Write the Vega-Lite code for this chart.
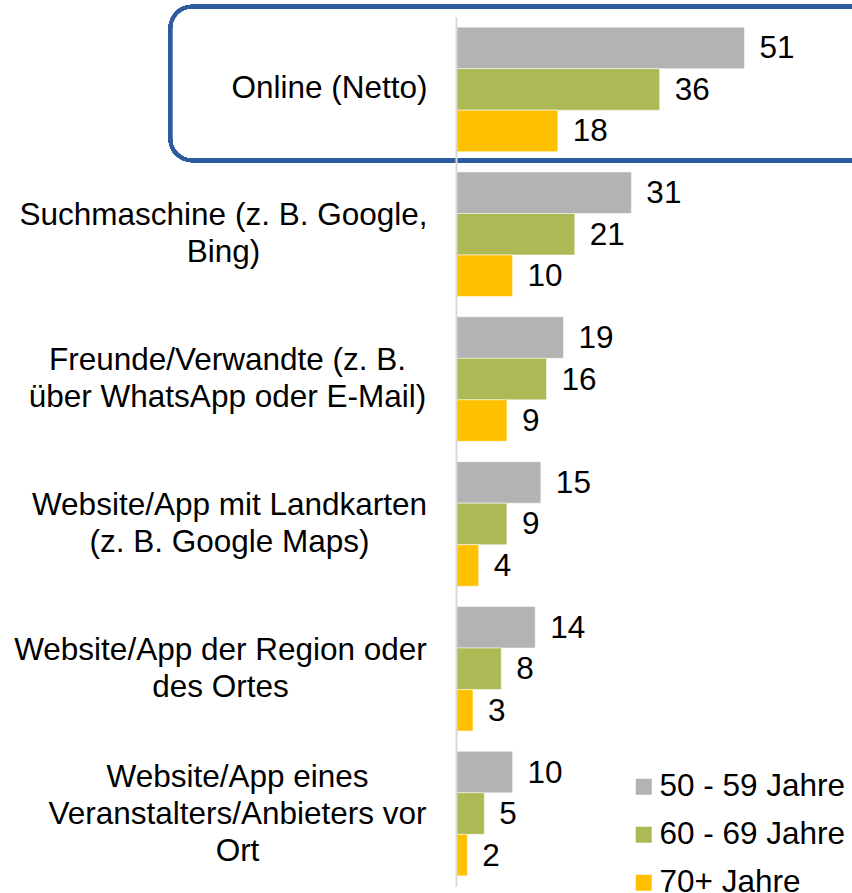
{
  "$schema": "https://vega.github.io/schema/vega-lite/v6.json",
  "width": 396,
  "height": 869,
  "autosize": {"type": "none"},
  "padding": {"left": 456, "top": 17, "right": 0, "bottom": 7},
  "background": "white",
  "config": {"view": {"stroke": null}, "font": "Liberation Sans"},
  "data": {
    "values": [
      {"source": "Online (Netto)", "age": "50 - 59 Jahre", "pct": 51},
      {"source": "Online (Netto)", "age": "60 - 69 Jahre", "pct": 36},
      {"source": "Online (Netto)", "age": "70+ Jahre", "pct": 18},
      {"source": "Suchmaschine (z. B. Google, Bing)", "age": "50 - 59 Jahre", "pct": 31},
      {"source": "Suchmaschine (z. B. Google, Bing)", "age": "60 - 69 Jahre", "pct": 21},
      {"source": "Suchmaschine (z. B. Google, Bing)", "age": "70+ Jahre", "pct": 10},
      {"source": "Freunde/Verwandte (z. B. über WhatsApp oder E-Mail)", "age": "50 - 59 Jahre", "pct": 19},
      {"source": "Freunde/Verwandte (z. B. über WhatsApp oder E-Mail)", "age": "60 - 69 Jahre", "pct": 16},
      {"source": "Freunde/Verwandte (z. B. über WhatsApp oder E-Mail)", "age": "70+ Jahre", "pct": 9},
      {"source": "Website/App mit Landkarten (z. B. Google Maps)", "age": "50 - 59 Jahre", "pct": 15},
      {"source": "Website/App mit Landkarten (z. B. Google Maps)", "age": "60 - 69 Jahre", "pct": 9},
      {"source": "Website/App mit Landkarten (z. B. Google Maps)", "age": "70+ Jahre", "pct": 4},
      {"source": "Website/App der Region oder des Ortes", "age": "50 - 59 Jahre", "pct": 14},
      {"source": "Website/App der Region oder des Ortes", "age": "60 - 69 Jahre", "pct": 8},
      {"source": "Website/App der Region oder des Ortes", "age": "70+ Jahre", "pct": 3},
      {"source": "Website/App eines Veranstalters/Anbieters vor Ort", "age": "50 - 59 Jahre", "pct": 10},
      {"source": "Website/App eines Veranstalters/Anbieters vor Ort", "age": "60 - 69 Jahre", "pct": 5},
      {"source": "Website/App eines Veranstalters/Anbieters vor Ort", "age": "70+ Jahre", "pct": 2}
    ]
  },
  "layer": [
    {
      "mark": {"type": "rect", "fillOpacity": 0, "stroke": "#2F5C9E", "strokeWidth": 3.5, "cornerRadius": 22, "height": 154, "yOffset": -6},
      "encoding": {
        "y": {
          "datum": "Online (Netto)", "type": "nominal", "title": null,
          "scale": {"domain": ["Online (Netto)", "Suchmaschine (z. B. Google, Bing)", "Freunde/Verwandte (z. B. über WhatsApp oder E-Mail)", "Website/App mit Landkarten (z. B. Google Maps)", "Website/App der Region oder des Ortes", "Website/App eines Veranstalters/Anbieters vor Ort"], "paddingInner": 0, "paddingOuter": 0}
        },
        "x": {"datum": -50.5, "type": "quantitative", "scale": {"domain": [0, 69.5]}, "axis": null},
        "x2": {"datum": 80}
      }
    },
    {
      "mark": {"type": "bar", "stroke": "white", "strokeWidth": 0.5},
      "encoding": {
        "y": {
          "field": "source", "type": "nominal", "title": null,
          "scale": {"domain": ["Online (Netto)", "Suchmaschine (z. B. Google, Bing)", "Freunde/Verwandte (z. B. über WhatsApp oder E-Mail)", "Website/App mit Landkarten (z. B. Google Maps)", "Website/App der Region oder des Ortes", "Website/App eines Veranstalters/Anbieters vor Ort"], "paddingInner": 0, "paddingOuter": 0},
          "axis": {
            "title": null,
            "domainColor": "#D9D9D9",
            "domainWidth": 2,
            "ticks": false,
            "labelFontSize": 31.5,
            "labelColor": "black",
            "labelAlign": "center",
            "labelBaseline": "middle",
            "labelLineHeight": 37,
            "labelLimit": 0,
            "labelOffset": {
              "condition": [
                {"test": "datum.value === 'Online (Netto)'", "value": 0},
                {"test": "datum.value === 'Website/App eines Veranstalters/Anbieters vor Ort'", "value": -36}
              ],
              "value": -18
            },
            "labelPadding": {
              "condition": [
                {"test": "datum.value === 'Online (Netto)'", "value": 127},
                {"test": "datum.value === 'Suchmaschine (z. B. Google, Bing)'", "value": 233},
                {"test": "datum.value === 'Freunde/Verwandte (z. B. über WhatsApp oder E-Mail)'", "value": 229},
                {"test": "datum.value === 'Website/App mit Landkarten (z. B. Google Maps)'", "value": 227},
                {"test": "datum.value === 'Website/App der Region oder des Ortes'", "value": 236}
              ],
              "value": 219
            },
            "labelExpr": "datum.value === 'Suchmaschine (z. B. Google, Bing)' ? ['Suchmaschine (z. B. Google,', 'Bing)'] : datum.value === 'Freunde/Verwandte (z. B. über WhatsApp oder E-Mail)' ? ['Freunde/Verwandte (z. B.', 'über WhatsApp oder E-Mail)'] : datum.value === 'Website/App mit Landkarten (z. B. Google Maps)' ? ['Website/App mit Landkarten', '(z. B. Google Maps)'] : datum.value === 'Website/App der Region oder des Ortes' ? ['Website/App der Region oder', 'des Ortes'] : datum.value === 'Website/App eines Veranstalters/Anbieters vor Ort' ? ['Website/App eines', 'Veranstalters/Anbieters vor', 'Ort'] : datum.label"
          }
        },
        "yOffset": {
          "field": "age", "type": "nominal",
          "sort": ["50 - 59 Jahre", "60 - 69 Jahre", "70+ Jahre"],
          "scale": {"paddingInner": 0, "paddingOuter": 0.245}
        },
        "x": {"field": "pct", "type": "quantitative", "scale": {"domain": [0, 69.5]}, "axis": null},
        "color": {
          "field": "age", "type": "nominal",
          "scale": {"domain": ["50 - 59 Jahre", "60 - 69 Jahre", "70+ Jahre"], "range": ["#B3B3B3", "#ADB955", "#FFC000"]},
          "legend": {
            "title": null,
            "orient": "none",
            "legendX": 172,
            "legendY": 754,
            "symbolType": "square",
            "symbolSize": 256,
            "symbolStrokeWidth": 0,
            "labelFontSize": 31.5,
            "labelColor": "black",
            "labelOffset": 0,
            "rowPadding": 15,
            "padding": 0,
            "labelLimit": 0
          }
        }
      }
    },
    {
      "mark": {"type": "text", "align": "left", "baseline": "middle", "dx": 15, "dy": 1.5, "fontSize": 31.5, "color": "black"},
      "encoding": {
        "y": {"field": "source", "type": "nominal", "title": null},
        "yOffset": {"field": "age", "type": "nominal", "sort": ["50 - 59 Jahre", "60 - 69 Jahre", "70+ Jahre"]},
        "x": {"field": "pct", "type": "quantitative"},
        "text": {"field": "pct", "type": "quantitative"}
      }
    }
  ]
}
